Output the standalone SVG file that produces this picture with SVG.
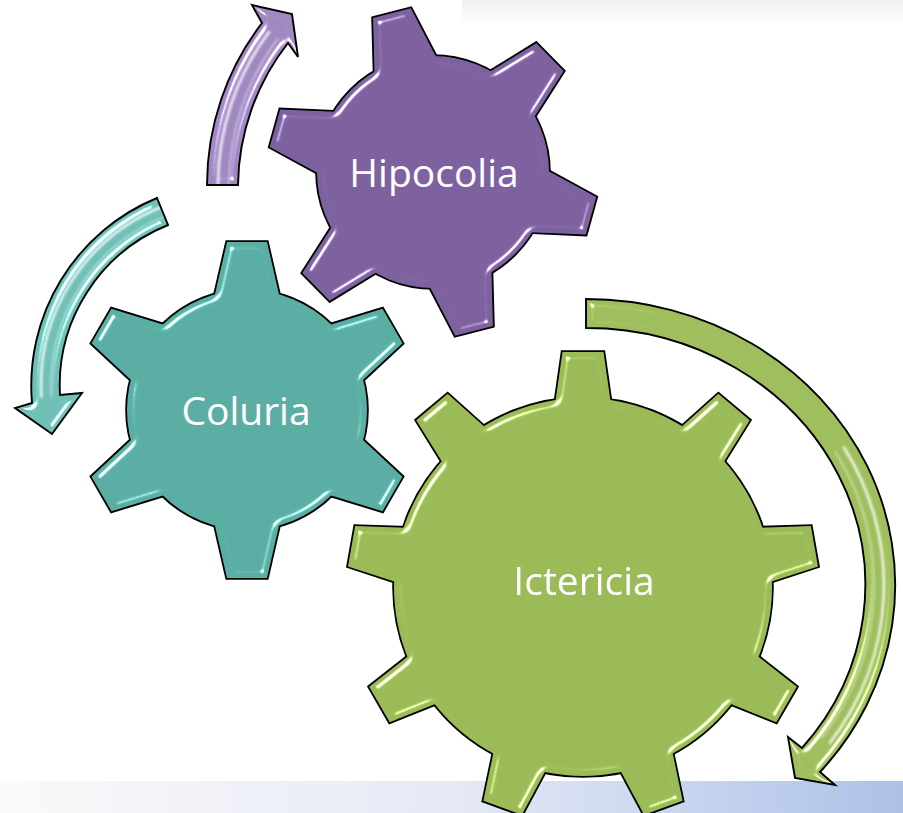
<svg xmlns="http://www.w3.org/2000/svg" width="903" height="813" viewBox="0 0 903 813">
<defs>
<style>
.ol{fill:#000;stroke:#000;stroke-width:3.6;stroke-linejoin:miter}
.lbl{font-family:"Open Sans","Liberation Sans",sans-serif;font-size:39px;fill:#fff;text-anchor:middle}
.arrowline{fill:none;stroke:#000;stroke-width:1.9;stroke-linejoin:miter}
.streak{fill:none;stroke:#fff;stroke-linecap:round}
</style>
<linearGradient id="topbar" x1="0" y1="0" x2="0" y2="1">
<stop offset="0" stop-color="#efefef"/><stop offset="1" stop-color="#ffffff"/>
</linearGradient>
<linearGradient id="botbar" x1="0" y1="0" x2="1" y2="0">
<stop offset="0" stop-color="#fafafa"/><stop offset="0.5" stop-color="#e6e9f6"/><stop offset="0.78" stop-color="#c6d3ee"/><stop offset="1" stop-color="#adc1e7"/>
</linearGradient>
<filter id="bev" x="-5%" y="-5%" width="110%" height="110%" color-interpolation-filters="sRGB">
<feGaussianBlur in="SourceAlpha" stdDeviation="3.5" result="b"/>
<feSpecularLighting in="b" surfaceScale="7" specularConstant="1.3" specularExponent="55" lighting-color="#ffffff" result="s1"><feDistantLight azimuth="225" elevation="35"/></feSpecularLighting>
<feSpecularLighting in="b" surfaceScale="7" specularConstant="0.9" specularExponent="55" lighting-color="#ffffff" result="s2"><feDistantLight azimuth="45" elevation="35"/></feSpecularLighting>
<feComposite in="s1" in2="s2" operator="arithmetic" k2="1" k3="1" result="s"/>
<feComposite in="s" in2="SourceAlpha" operator="in" result="si"/>
<feComposite in="SourceGraphic" in2="si" operator="arithmetic" k2="1" k3="1"/>
</filter>
<filter id="soft" x="-20%" y="-20%" width="140%" height="140%"><feGaussianBlur stdDeviation="0.8"/></filter>
<path id="toothC" d="M-20,-168 L20,-168 L35.6,-100 L-35.6,-100 Z"/>
<path id="toothH" d="M-19.5,-164 L19.5,-164 L34.7,-98 L-34.7,-98 Z"/>
<path id="toothI" d="M-20.5,-235 L20.5,-235 L29.8,-170 L-29.8,-170 Z"/>
<path id="arrH" d="M207,185 A266,266 0 0 1 262,23 L252,5 L292,14 L298,57 L288,43 A235,235 0 0 0 238,185 Z"/>
<path id="arrC" d="M157,198 A203,203 0 0 0 32,403 L15,408 L52,434 L82,393 L60,395 A173,173 0 0 1 168,225 Z"/>
<path id="arrI" d="M586,299 A309,286 0 0 1 820,772 L835,785 L795,778 L788,737 L802,748 A279,257 0 0 0 586,328 Z"/>
<clipPath id="cH"><use href="#arrH"/></clipPath>
<clipPath id="cC"><use href="#arrC"/></clipPath>
<clipPath id="cI"><use href="#arrI"/></clipPath>
</defs>

<rect x="0" y="0" width="903" height="813" fill="#ffffff"/>
<rect x="462" y="0" width="441" height="24" fill="url(#topbar)"/>
<rect x="0" y="781" width="903" height="32" fill="url(#botbar)"/>

<g id="connectors">
<g id="arrow-hipocolia">
<use href="#arrH" fill="#a089c1" filter="url(#bev)"/>
<g clip-path="url(#cH)" filter="url(#soft)">
<path class="streak" d="M218,185 A255,255 0 0 1 269,32" stroke-width="2.6" opacity="0.85"/>
<path class="streak" d="M229,185 A244,244 0 0 1 277.8,38.6" stroke-width="1.3" opacity="0.6"/>
</g>
<use href="#arrH" class="arrowline"/>
</g>
<g id="arrow-coluria">
<use href="#arrC" fill="#70c0b7" filter="url(#bev)"/>
<g clip-path="url(#cC)" filter="url(#soft)">
<path class="streak" d="M160.8,207.2 A192,192 0 0 0 41.4,396.5" stroke-width="2.6" opacity="0.85"/>
<path class="streak" d="M164.6,216.5 A182,182 0 0 0 51.4,395.9" stroke-width="1.3" opacity="0.6"/>
</g>
<use href="#arrC" class="arrowline"/>
</g>
<g id="arrow-ictericia">
<use href="#arrI" fill="#9fbf5e" filter="url(#bev)"/>
<g clip-path="url(#cI)" filter="url(#soft)">
<path class="streak" d="M844,447.5 A298,275 0 0 1 830,742.8" stroke-width="2.6" opacity="0.85"/>
<path class="streak" d="M835.4,452 A288,266 0 0 1 821.9,737.7" stroke-width="1.3" opacity="0.6"/>
</g>
<use href="#arrI" class="arrowline"/>
</g>
</g>

<g id="gear-hipocolia" transform="translate(433,172)">
<g class="ol">
<circle r="116"/>
<use href="#toothH" transform="rotate(-14.5)"/><use href="#toothH" transform="rotate(45.5)"/><use href="#toothH" transform="rotate(105.5)"/>
<use href="#toothH" transform="rotate(165.5)"/><use href="#toothH" transform="rotate(225.5)"/><use href="#toothH" transform="rotate(285.5)"/>
</g>
<g fill="#7e62a0" filter="url(#bev)">
<circle r="116"/>
<use href="#toothH" transform="rotate(-14.5)"/><use href="#toothH" transform="rotate(45.5)"/><use href="#toothH" transform="rotate(105.5)"/>
<use href="#toothH" transform="rotate(165.5)"/><use href="#toothH" transform="rotate(225.5)"/><use href="#toothH" transform="rotate(285.5)"/>
</g>
<text class="lbl" x="1" y="15">Hipocolia</text>
</g>

<g id="gear-coluria" transform="translate(247,410)">
<g class="ol">
<circle r="120"/>
<use href="#toothC"/><use href="#toothC" transform="rotate(60)"/><use href="#toothC" transform="rotate(120)"/>
<use href="#toothC" transform="rotate(180)"/><use href="#toothC" transform="rotate(240)"/><use href="#toothC" transform="rotate(300)"/>
</g>
<g fill="#5aaea4" filter="url(#bev)">
<circle r="120"/>
<use href="#toothC"/><use href="#toothC" transform="rotate(60)"/><use href="#toothC" transform="rotate(120)"/>
<use href="#toothC" transform="rotate(180)"/><use href="#toothC" transform="rotate(240)"/><use href="#toothC" transform="rotate(300)"/>
</g>
<text class="lbl" x="-1" y="15">Coluria</text>
</g>

<g id="gear-ictericia" transform="translate(583,587)">
<g class="ol">
<circle r="189"/>
<use href="#toothI"/><use href="#toothI" transform="rotate(40)"/><use href="#toothI" transform="rotate(80)"/>
<use href="#toothI" transform="rotate(120)"/><use href="#toothI" transform="rotate(160)"/><use href="#toothI" transform="rotate(200)"/>
<use href="#toothI" transform="rotate(240)"/><use href="#toothI" transform="rotate(280)"/><use href="#toothI" transform="rotate(320)"/>
</g>
<g fill="#9bbb59" filter="url(#bev)">
<circle r="189"/>
<use href="#toothI"/><use href="#toothI" transform="rotate(40)"/><use href="#toothI" transform="rotate(80)"/>
<use href="#toothI" transform="rotate(120)"/><use href="#toothI" transform="rotate(160)"/><use href="#toothI" transform="rotate(200)"/>
<use href="#toothI" transform="rotate(240)"/><use href="#toothI" transform="rotate(280)"/><use href="#toothI" transform="rotate(320)"/>
</g>
<text class="lbl" x="1" y="8">Ictericia</text>
</g>
</svg>
